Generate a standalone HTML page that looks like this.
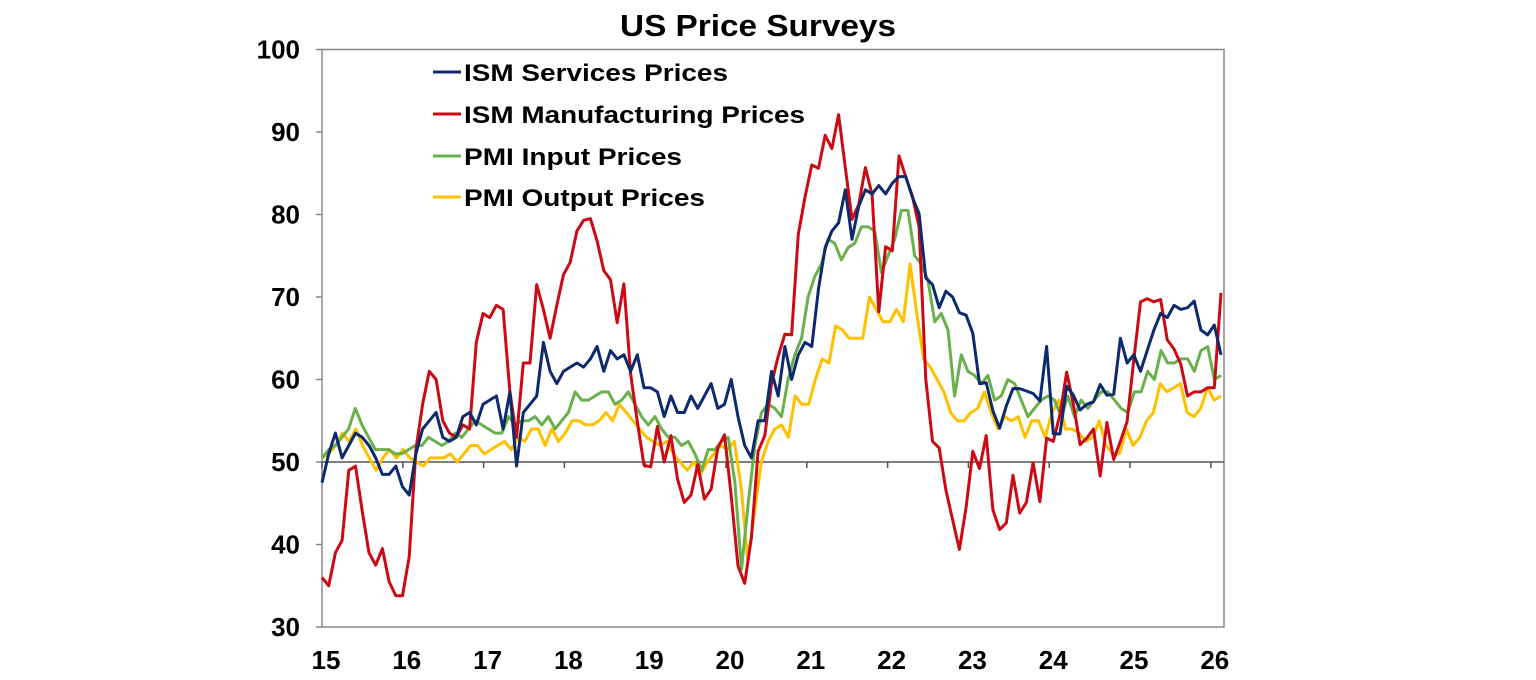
<!DOCTYPE html>
<html><head><meta charset="utf-8"><style>
html,body{margin:0;padding:0;background:#fff;}
svg{display:block;font-family:"Liberation Sans",Arial,sans-serif;font-weight:bold;}
</style></head><body>
<svg id="c" width="1536" height="680" viewBox="0 0 1536 680" xmlns="http://www.w3.org/2000/svg">
<text x="758" y="36" font-size="31" text-anchor="middle" fill="#000" textLength="276" lengthAdjust="spacingAndGlyphs">US Price Surveys</text>
<g id="axes"></g>
<g id="series" fill="none" stroke-width="3" stroke-linejoin="round"></g>
<g font-size="24" fill="#000">
<line x1="433" y1="72" x2="461" y2="72" stroke="#0c2a6c" stroke-width="3"/>
<text x="464" y="81" textLength="264" lengthAdjust="spacingAndGlyphs">ISM Services Prices</text>
<line x1="433" y1="114" x2="461" y2="114" stroke="#cc0a14" stroke-width="3"/>
<text x="464" y="123" textLength="341" lengthAdjust="spacingAndGlyphs">ISM Manufacturing Prices</text>
<line x1="433" y1="156" x2="461" y2="156" stroke="#6ab04c" stroke-width="3"/>
<text x="464" y="165" textLength="218" lengthAdjust="spacingAndGlyphs">PMI Input Prices</text>
<line x1="433" y1="197" x2="461" y2="197" stroke="#ffc000" stroke-width="3"/>
<text x="464" y="206" textLength="241" lengthAdjust="spacingAndGlyphs">PMI Output Prices</text>
</g>
</svg>
<script>
var NS="http://www.w3.org/2000/svg";
function Y(v){return 462-(v-50)*8.25;}
var ax=document.getElementById("axes");
function el(t,a,p){var e=document.createElementNS(NS,t);for(var k in a)e.setAttribute(k,a[k]);(p||ax).appendChild(e);return e;}
el("rect",{x:322,y:Y(100),width:1224-322,height:Y(30)-Y(100),fill:"none",stroke:"#888","stroke-width":1.5});
el("line",{x1:322,y1:Y(50),x2:1224,y2:Y(50),stroke:"#555","stroke-width":1.5});
for(var v=30;v<=100;v+=10){el("line",{x1:316,y1:Y(v),x2:322,y2:Y(v),stroke:"#888","stroke-width":1.5});
var t=el("text",{x:300,y:Y(v)+9,"font-size":"26","text-anchor":"end",fill:"#000"});t.textContent=v;}
for(var yr=0;yr<=11;yr++){var x=322+80.8*yr;
el("line",{x1:x,y1:Y(50),x2:x,y2:Y(50)+6,stroke:"#555","stroke-width":1.5});
var t=el("text",{x:x+4,y:669,"font-size":"26","text-anchor":"middle",fill:"#000"});t.textContent=15+yr;}
var S={
"#0c2a6c":[47.5,51,53.5,50.5,52,53.5,53,52,50.5,48.5,48.5,49.5, 47,46,51,54,55,56,53,52.5,53,55.5,56,54.5, 57,57.5,58,54,58.5,49.5,56,57,58,64.5,61,59.5, 61,61.5,62,61.5,62.5,64,61,63.5,62.5,63,61,63, 59,59,58.5,55.5,58,56,56,58,56.5,58,59.5,56.5, 57,60,55.5,52,50.5,55,55,61,58,64,60,63, 64.5,64,71,76,78,79,83,77,81,83,82.5,83.5, 82.5,83.8,84.6,84.6,82.1,80.1,72.3,71.5,68.7,70.7,70,68.1, 67.8,65.6,59.5,59.6,56.2,54.1,56.8,58.9,58.9,58.6,58.3,57.4, 64,53.4,53.4,59.2,58.1,56.3,57,57.3,59.4,58.1,58.2,65, 62,63,61,63.5,66,68,67.5,69,68.5,68.7,69.5,66, 65.4,66.6,63],
"#cc0a14":[36,35,39,40.5,49,49.5,44,39,37.5,39.5,35.5,33.8, 33.8,38.5,51.5,57,61,60,55,53.5,53,54.5,54,64.5, 68,67.5,69,68.5,58.5,53,62,62,71.5,68.5,65,69, 72.7,74.2,78,79.3,79.5,76.8,73.2,72.1,66.9,71.6,60.7,54.9, 49.6,49.4,54.3,50,53.2,47.9,45.1,46,49.7,45.5,46.7,51.7, 53.3,45.9,37.4,35.3,40.8,51.3,53.2,59.5,62.8,65.5,65.4,77.6, 82.1,86,85.6,89.6,88,92.1,85.7,79.4,81.2,85.7,82.4,68.2, 76.1,75.6,87.1,84.6,82.2,78.5,60,52.5,51.7,46.6,43,39.4, 44.5,51.3,49.2,53.2,44.2,41.8,42.6,48.4,43.8,45.1,49.9,45.2, 52.9,52.5,55.8,60.9,57,52.1,52.9,54,48.3,54.8,50.3,52.5, 54.9,62.4,69.4,69.8,69.4,69.7,64.8,63.7,61.9,58,58.5,58.5, 59,59,70.5],
"#6ab04c":[50.5,51.5,52,53,54,56.5,54.5,53,51.5,51.5,51.5,51, 51,51.5,52,52,53,52.5,52,52.5,53.5,53,54,55, 54.5,54,53.5,53.5,55.5,54.5,55,55,55.5,54.5,55.5,54, 55,56,58.5,57.5,57.5,58,58.5,58.5,57,57.5,58.5,57, 55.5,54.5,55.5,54,53,53,52,52.5,51,49,51.5,51.5, 52.5,53,47.5,37,45,52,56,57,56.5,55.5,60,63, 65,70,72.5,74,77,76.5,74.5,76,76.5,78.5,78.5,78, 73,75,77,80.5,80.5,75,74,72,67,68,66,58, 63,61,60.5,59.5,60.5,57.5,58,60,59.5,57.5,55.5,56.5, 57.5,58,57.5,55.5,58,55.5,57.5,56.5,57.5,58.5,58.5,57.5, 56.5,56,58.5,58.5,61,60,63.5,62,62,62.5,62.5,61, 63.5,64,60,60.5],
"#ffc000":[50.5,51,52,53.5,52.5,54,52,50.5,49,50.5,51.5,50.5, 51.5,50.5,50,49.5,50.5,50.5,50.5,51,50,51,52,52, 51,51.5,52,52.5,51.5,53,52.5,54,54,52,54,52.5, 53.5,55,55,54.5,54.5,55,56,55,57,56,55,54, 53,52.5,52,52.5,51,50,49,50,48.5,50,51,52, 51.5,52.5,47,38,44,50,52.5,54,54.5,53,58,57, 57,60,62.5,62,66.5,66,65,65,65,70,68.5,67, 67,68.5,67,74,68,62.5,61.5,60,58.5,56,55,55, 56,56.5,58.5,56,54,55.5,55,55.5,53,55,55,53, 56,57.5,54,54,53.5,52.5,53,55,52,51,51,54, 52,53,55,56,59.5,58.5,59,59.5,56,55.5,56.5,59, 57.5,58]
};
var g=document.getElementById("series");
["#ffc000","#6ab04c","#cc0a14","#0c2a6c"].forEach(function(c){
var d=S[c],n=d.length,pts=[];
var step=(1221-322)/(n-1);
for(var i=0;i<n;i++)pts.push((322+step*i).toFixed(1)+","+Y(d[i]).toFixed(1));
el("polyline",{points:pts.join(" "),stroke:c},g);});
</script>
</body></html>
